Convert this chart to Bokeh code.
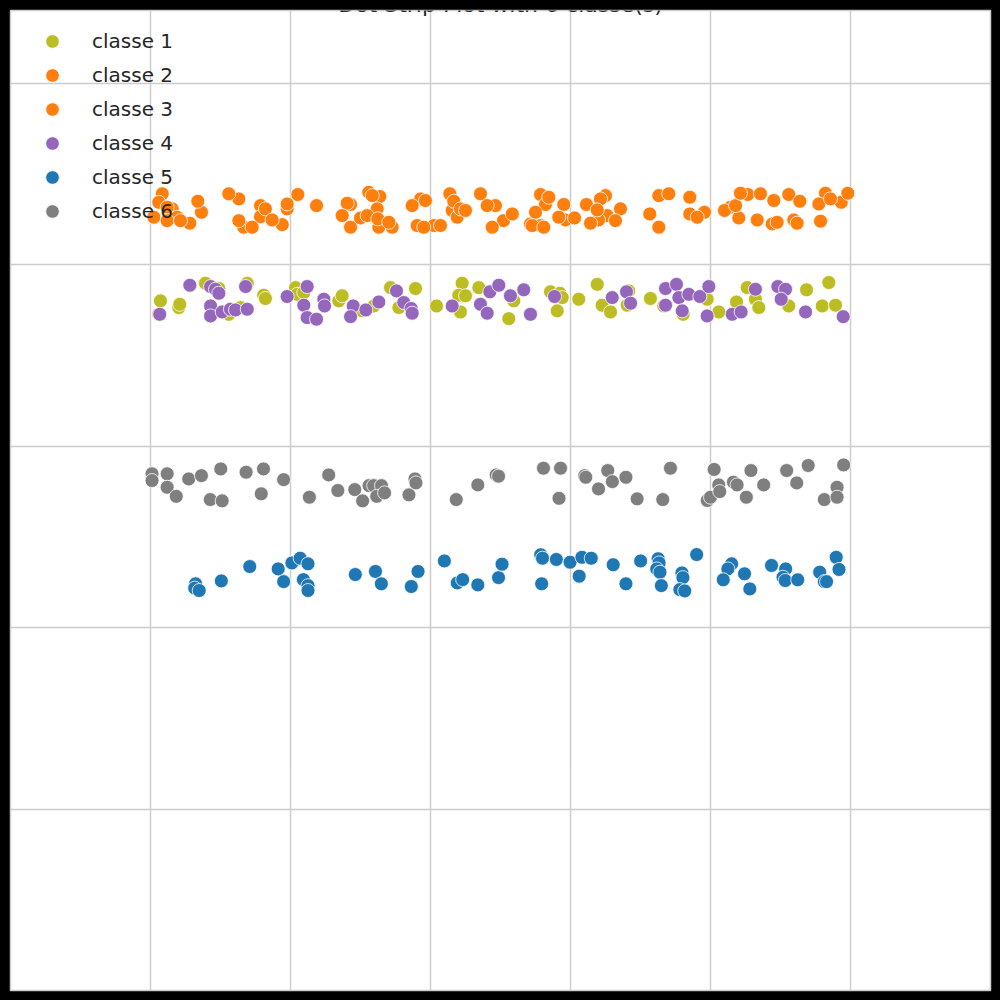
from bokeh.plotting import figure
from bokeh.models import FixedTicker, Label, Range1d
from bokeh.embed import file_html
from bokeh.resources import INLINE

TITLE = "Dot Strip Plot with 6 classe(s)"
class_names = ["classe 1", "classe 2", "classe 3", "classe 4", "classe 5", "classe 6"]
class_colors = ["#bcbd22", "#ff7f0e", "#ff7f0e", "#9467bd", "#1f77b4", "#7f7f7f"]
x_ticks = [0, 1, 2, 3, 4, 5]
y_ticks = [1, 2, 3, 4, 5]

classe1_x = [0.071, 0.059, 0.202, 0.209, 0.393, 0.488, 0.691, 0.809, 0.821, 0.559, 0.643, 1.036, 1.048, 1.095,
             1.345, 1.369, 1.512, 1.595, 1.714, 1.774, 1.893, 2.043, 2.226, 2.202, 2.25, 2.214, 2.345, 2.595,
             2.559, 2.857, 2.924, 2.941, 2.905, 3.059, 3.191, 3.226, 3.286, 3.416, 3.405, 3.571, 3.666, 3.805,
             3.976, 4.059, 4.186, 4.262, 4.321, 4.345, 4.559, 4.686, 4.845, 4.798, 4.893]
classe1_y = [3.800, 3.726, 3.763, 3.781, 3.897, 3.868, 3.897, 3.831, 3.813, 3.726, 3.763, 3.873, 3.836, 3.846,
             3.800, 3.828, 3.745, 3.772, 3.873, 3.763, 3.868, 3.772, 3.897, 3.831, 3.828, 3.739, 3.873, 3.800,
             3.702, 3.850, 3.842, 3.818, 3.745, 3.809, 3.891, 3.776, 3.739, 3.855, 3.776, 3.813, 3.772, 3.726,
             3.809, 3.739, 3.794, 3.873, 3.809, 3.763, 3.772, 3.861, 3.901, 3.772, 3.776]

classe2_x = [0.084, 0.024, 0.155, 0.191, 0.281, 0.364, 0.631, 0.666, 0.786, 0.786, 0.941, 0.976, 1.186, 1.429,
             1.429, 1.559, 1.638, 1.619, 1.631, 1.726, 1.929, 1.905, 2.024, 2.138, 2.155, 2.191, 2.357, 2.464,
             2.521, 2.786, 2.821, 2.714, 2.786, 2.952, 2.964, 3.114, 3.25, 3.262, 3.357, 3.2, 3.631, 3.631,
             3.852, 3.957, 4.143, 4.202, 4.266, 4.452, 4.441, 4.559, 4.595, 4.786, 4.821, 4.934]
classe2_y = [4.390, 4.261, 4.307, 4.261, 4.228, 4.288, 4.362, 4.206, 4.325, 4.264, 4.220, 4.307, 4.325, 4.331,
             4.206, 4.398, 4.375, 4.307, 4.206, 4.206, 4.362, 4.215, 4.215, 4.390, 4.298, 4.261, 4.390, 4.325,
             4.242, 4.386, 4.331, 4.224, 4.215, 4.331, 4.246, 4.331, 4.380, 4.270, 4.307, 4.246, 4.380, 4.206,
             4.279, 4.288, 4.316, 4.257, 4.386, 4.353, 4.224, 4.386, 4.246, 4.239, 4.393, 4.343]

classe3_x = [0.059, 0.119, 0.119, 0.214, 0.338, 0.559, 0.631, 0.726, 0.821, 0.869, 0.976, 1.052, 1.405, 1.369,
             1.5, 1.584, 1.548, 1.624, 1.702, 1.869, 1.964, 1.952, 2.071, 2.166, 2.214, 2.25, 2.405, 2.441,
             2.584, 2.845, 2.75, 2.726, 2.809, 2.916, 3.029, 3.214, 3.191, 3.321, 3.143, 3.566, 3.702, 3.852,
             3.905, 4.1, 4.179, 4.214, 4.357, 4.334, 4.476, 4.638, 4.619, 4.774, 4.857, 4.981]
classe3_y = [4.343, 4.316, 4.242, 4.242, 4.349, 4.390, 4.242, 4.206, 4.307, 4.246, 4.334, 4.386, 4.338, 4.270,
             4.257, 4.380, 4.270, 4.252, 4.233, 4.325, 4.353, 4.206, 4.215, 4.349, 4.307, 4.298, 4.325, 4.206,
             4.279, 4.371, 4.288, 4.215, 4.206, 4.261, 4.257, 4.362, 4.301, 4.242, 4.228, 4.279, 4.390, 4.371,
             4.261, 4.298, 4.325, 4.393, 4.390, 4.246, 4.233, 4.349, 4.228, 4.334, 4.362, 4.393]

classe4_x = [0.066, 0.281, 0.429, 0.464, 0.488, 0.429, 0.429, 0.512, 0.571, 0.607, 0.691, 0.679, 0.976, 1.119,
             1.095, 1.119, 1.186, 1.238, 1.243, 1.448, 1.429, 1.538, 1.631, 1.757, 1.809, 1.862, 1.869, 2.155,
             2.357, 2.405, 2.424, 2.488, 2.571, 2.666, 2.714, 2.886, 3.298, 3.4, 3.429, 3.679, 3.757, 3.774,
             3.845, 3.679, 3.798, 3.924, 3.988, 3.976, 4.155, 4.219, 4.321, 4.481, 4.536, 4.505, 4.679, 4.948]
classe4_y = [3.726, 3.886, 3.879, 3.864, 3.842, 3.772, 3.717, 3.739, 3.754, 3.750, 3.754, 3.879, 3.824, 3.879,
             3.776, 3.708, 3.699, 3.809, 3.772, 3.772, 3.713, 3.750, 3.794, 3.855, 3.791, 3.758, 3.732, 3.772,
             3.781, 3.732, 3.850, 3.886, 3.828, 3.861, 3.726, 3.824, 3.818, 3.850, 3.787, 3.868, 3.891, 3.818,
             3.836, 3.776, 3.745, 3.824, 3.879, 3.717, 3.726, 3.739, 3.864, 3.879, 3.864, 3.809, 3.739, 3.713]

classe5_x = [0.322, 0.316, 0.348, 0.506, 0.709, 0.912, 0.951, 1.01, 1.069, 1.125, 1.092, 1.125, 1.125, 1.463,
             1.607, 1.649, 1.863, 1.911, 2.099, 2.191, 2.23, 2.338, 2.486, 2.511, 2.787, 2.8, 2.899, 2.794,
             2.997, 3.082, 3.148, 3.062, 3.305, 3.396, 3.501, 3.626, 3.633, 3.616, 3.639, 3.649, 3.796, 3.803,
             3.781, 3.816, 3.901, 4.151, 4.124, 4.091, 4.243, 4.281, 4.436, 4.537, 4.518, 4.534, 4.623, 4.78,
             4.813, 4.829, 4.898, 4.918]
classe5_y = [2.241, 2.217, 2.204, 2.257, 2.336, 2.323, 2.253, 2.356, 2.382, 2.351, 2.264, 2.231, 2.204, 2.292,
             2.309, 2.241, 2.226, 2.309, 2.367, 2.246, 2.264, 2.235, 2.275, 2.349, 2.401, 2.382, 2.375, 2.241,
             2.360, 2.387, 2.382, 2.283, 2.346, 2.241, 2.367, 2.379, 2.356, 2.323, 2.305, 2.231, 2.301, 2.275,
             2.209, 2.202, 2.402, 2.351, 2.323, 2.263, 2.296, 2.213, 2.342, 2.323, 2.277, 2.259, 2.263, 2.305,
             2.253, 2.253, 2.387, 2.320]

classe6_x = [0.011, 0.011, 0.119, 0.119, 0.184, 0.273, 0.364, 0.502, 0.427, 0.512, 0.683, 0.807, 0.791, 0.951,
             1.273, 1.135, 1.338, 1.459, 1.515, 1.561, 1.594, 1.65, 1.616, 1.672, 1.846, 1.889, 1.896, 2.184,
             2.338, 2.469, 2.486, 2.807, 2.929, 2.918, 3.101, 3.109, 3.2, 3.266, 3.299, 3.396, 3.476, 3.659,
             3.714, 3.977, 4.0, 4.026, 4.059, 4.066, 4.164, 4.19, 4.256, 4.289, 4.38, 4.544, 4.616, 4.698,
             4.813, 4.904, 4.904, 4.951]
classe6_y = [2.847, 2.810, 2.847, 2.773, 2.723, 2.819, 2.837, 2.874, 2.705, 2.698, 2.856, 2.874, 2.737, 2.815,
             2.841, 2.718, 2.755, 2.760, 2.698, 2.782, 2.782, 2.782, 2.723, 2.742, 2.731, 2.819, 2.797, 2.705,
             2.786, 2.841, 2.834, 2.878, 2.878, 2.712, 2.837, 2.828, 2.764, 2.865, 2.804, 2.828, 2.709, 2.705,
             2.878, 2.700, 2.718, 2.871, 2.786, 2.749, 2.801, 2.786, 2.718, 2.865, 2.786, 2.865, 2.797, 2.893,
             2.705, 2.773, 2.718, 2.896]

all_x = [classe1_x, classe2_x, classe3_x, classe4_x, classe5_x, classe6_x]
all_y = [classe1_y, classe2_y, classe3_y, classe4_y, classe5_y, classe6_y]

p = figure(width=1000, height=1000, output_backend="svg", toolbar_location=None,
           title=None, x_range=Range1d(-1, 6), y_range=Range1d(0, 5.4),
           min_border_left=10, min_border_right=10, min_border_top=10, min_border_bottom=10)
p.border_fill_color = "#000000"
p.background_fill_color = "#ffffff"
p.outline_line_color = "#cccccc"
p.outline_line_width = 1.5
p.xaxis.visible = False
p.yaxis.visible = False
p.xgrid.ticker = FixedTicker(ticks=x_ticks)
p.ygrid.ticker = FixedTicker(ticks=y_ticks)
for g in (p.xgrid, p.ygrid):
    g.grid_line_color = "#cccccc"
    g.grid_line_width = 1.5

for name, color, xs, ys in zip(class_names, class_colors, all_x, all_y):
    p.scatter(xs, ys, size=14, marker="circle", fill_color=color, line_color="#ffffff",
              line_width=0.8, legend_label=name)

lg = p.legend[0]
lg.location = (25, 762)
lg.padding = 0
lg.margin = 0
lg.spacing = 0
lg.glyph_width = 34
lg.glyph_height = 34
lg.label_height = 20
lg.label_standoff = 23
lg.label_text_font = "DejaVu Sans"
lg.label_text_font_size = "20px"
lg.label_text_color = "#262626"
lg.background_fill_alpha = 0
lg.border_line_alpha = 0

p.add_layout(Label(x=2.5, y=5.433, text=TITLE, text_align="center", text_baseline="alphabetic",
                   text_font="DejaVu Sans", text_font_size="22px", text_color="#262626"))

html = file_html(p, INLINE)
html = html.replace("<head>", "<head><style>html,body{margin:0;padding:0;background:#000;overflow:hidden;}</style>", 1)
open("out.html", "w").write(html)
